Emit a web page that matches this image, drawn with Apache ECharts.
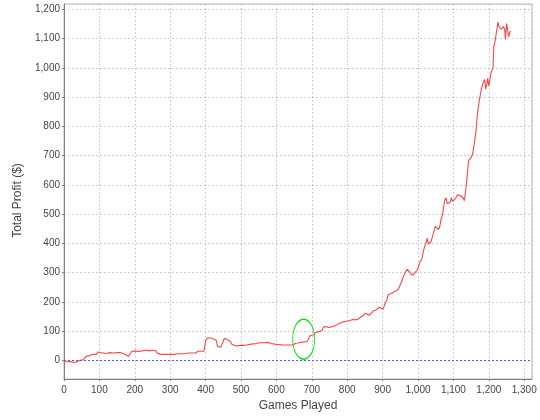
<!DOCTYPE html>
<html>
<head>
<meta charset="utf-8">
<script src="https://cdn.jsdelivr.net/npm/echarts@6/dist/echarts.min.js"></script>
<style>html,body{margin:0;padding:0;background:#fff}#c{width:540px;height:420px}</style>
</head>
<body>
<div id="c"></div>
<script>
// Games played (x) and total profit in dollars (y)
var games = [0,4,9,14,19,24,29,34,39,45,50,55,60,62,70,78,85,92,95,100,110,120,130,140,150,160,167,175,182,186,191,196,201,209,214,221,231,241,251,259,263,271,281,291,302,308,313,322,332,342,347,352,362,372,379,387,395,399,401,407,412,417,422,430,434,443,448,452,458,463,469,474,481,488,498,508,516,520,533,544,553,563,577,584,592,601,610,616,624,634,647,654,661,666,674,686,690,695,705,710,717,723,729,733,740,747,755,763,771,777,785,791,800,808,815,823,830,837,844,851,856,863,868,874,880,885,891,896,901,907,912,916,921,927,934,941,946,950,954,958,964,969,973,978,983,989,994,999,1006,1011,1015,1019,1023,1026,1029,1033,1037,1041,1044,1049,1053,1057,1061,1065,1069,1072,1075,1079,1083,1087,1091,1094,1098,1102,1107,1111,1115,1119,1123,1127,1131,1134,1137,1140,1143,1147,1151,1155,1158,1161,1164,1167,1170,1173,1176,1179,1182,1185,1188,1191,1194,1197,1200,1203,1206,1209,1212,1214,1217,1220,1223,1226,1229,1232,1235,1238,1241,1245,1247,1250,1253,1256,1259,1262];
var profit = [0,-2,-4,0,-3,-2,-7,-6,-2,1,2,3,4,14,16,20,21,21,29,26,26,24,27,26,27,27,24,20,14,20,31,29,33,31,35,33,36,33,35,33,26,22,21,21,21,21,23,23,23,24,28,26,26,26,32,32,32,32,71,78,78,76,70,69,48,46,60,75,74,68,66,56,52,50,52,52,53,56,57,58,61,61,62,58,57,55,55,53,53,53,53,59,60,63,63,65,72,85,88,95,98,100,103,115,116,113,115,118,122,127,130,133,135,137,140,139,141,148,152,162,164,155,158,170,172,175,182,178,175,195,207,225,228,231,236,240,248,250,270,285,300,312,306,300,292,296,302,312,338,346,373,390,402,418,398,393,406,403,437,459,462,447,455,482,497,502,546,556,536,531,541,556,544,538,556,566,571,564,566,556,546,551,605,645,684,679,695,710,734,729,784,833,863,888,908,928,933,952,960,928,942,964,937,940,982,992,1002,1072,1086,1109,1111,1156,1141,1139,1131,1126,1141,1131,1098,1151,1131,1106,1121,1125];
var xTickLabelsMax = 1322;
var yMin = -63, yMax = 1218;
var circleCenter = [677, 73];

var chart = echarts.init(document.getElementById('c'), null, {renderer: 'canvas'});
var pts = games.map(function (g, i) { return [g, profit[i]]; });
var fmt = function (v) { return Math.round(v).toLocaleString('en-US'); };
var font = 'Liberation Sans';
chart.setOption({
  animation: false,
  backgroundColor: '#fff',
  grid: {left: 64, right: 8, top: 4, bottom: 41, show: true, borderColor: '#b4b4b4', borderWidth: 1, backgroundColor: '#fff'},
  xAxis: {
    type: 'value', min: 0, max: xTickLabelsMax, interval: 100,
    name: 'Games Played', nameLocation: 'middle', nameGap: 19,
    nameTextStyle: {fontFamily: font, fontSize: 12, color: '#444'},
    axisLine: {show: true, onZero: false, lineStyle: {color: '#808080', width: 1}},
    axisTick: {show: true, length: 2, inside: false, lineStyle: {color: '#808080'}},
    axisLabel: {fontFamily: font, fontSize: 10, color: '#444', margin: 6, formatter: fmt, showMaxLabel: false},
    splitLine: {show: true, lineStyle: {color: '#c0c0c0', type: [1.5, 2.5], width: 1}}
  },
  yAxis: {
    type: 'value', min: yMin, max: yMax, splitNumber: 13,
    name: 'Total Profit ($)', nameLocation: 'middle', nameGap: 36,
    nameTextStyle: {fontFamily: font, fontSize: 12, color: '#444', padding: [0, 18, 0, 0]},
    axisLine: {show: true, onZero: false, lineStyle: {color: '#808080', width: 1}},
    axisTick: {show: true, length: 2, lineStyle: {color: '#808080'}},
    axisLabel: {fontFamily: font, fontSize: 10, color: '#444', margin: 4, formatter: fmt, showMinLabel: false, showMaxLabel: false},
    splitLine: {show: true, lineStyle: {color: '#c0c0c0', type: [1.5, 2.5], width: 1}}
  },
  series: [{
    type: 'line', data: pts, showSymbol: false, symbol: 'none',
    lineStyle: {color: '#ff4545', width: 1.1},
    z: 3,
    markLine: {
      silent: true, symbol: 'none', animation: false,
      label: {show: false},
      lineStyle: {color: '#5555ff', type: [2, 2], width: 1},
      data: [{yAxis: 0}]
    }
  }]
});

function drawCircle() {
  var c = chart.convertToPixel({gridIndex: 0}, circleCenter);
  chart.setOption({
    graphic: [{
      type: 'circle', x: c[0], y: c[1], scaleX: 0.55, scaleY: 1,
      shape: {cx: 0, cy: 0, r: 20},
      style: {fill: 'none', stroke: '#00dd00', lineWidth: 1.4, strokeNoScale: true},
      z: 10, silent: true
    }]
  });
}
drawCircle();
</script>
</body>
</html>
